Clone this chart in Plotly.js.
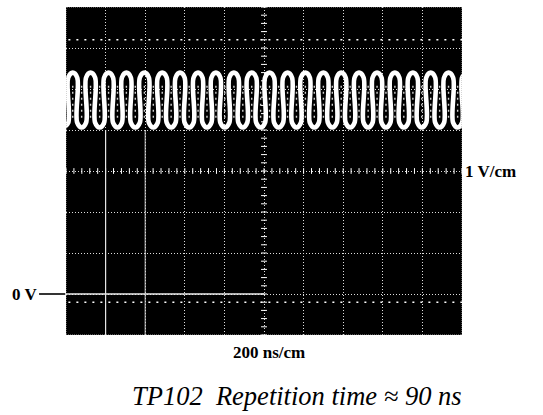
<!DOCTYPE html>
<html>
<head>
<meta charset="utf-8">
<script src="https://cdn.plot.ly/plotly-3.0.1.min.js"></script>
<style>html,body{margin:0;padding:0;background:#fff;}#chart{width:543px;height:415px;}</style>
</head>
<body>
<div id="chart"></div>
<script>
// Trace: times of crests/troughs (ns) and their levels (V)
const extremaNs = [-11, 34, 79, 124, 170, 215, 260, 305, 350, 396, 441, 486, 531, 576, 622, 667,
  712, 757, 802, 848, 893, 938, 983, 1028, 1074, 1119, 1164, 1209, 1254, 1300, 1345, 1390,
  1435, 1480, 1526, 1571, 1616, 1661, 1706, 1752, 1797, 1842, 1887, 1932, 1978, 2023];
const extremaV = [4.06, 5.40, 4.06, 5.40, 4.06, 5.40, 4.06, 5.40, 4.06, 5.40, 4.06, 5.40, 4.06, 5.40, 4.06, 5.40,
  4.06, 5.40, 4.06, 5.40, 4.06, 5.40, 4.06, 5.40, 4.06, 5.40, 4.06, 5.40, 4.06, 5.40, 4.06, 5.40,
  4.06, 5.40, 4.06, 5.40, 4.06, 5.40, 4.06, 5.40, 4.06, 5.40, 4.06, 5.40, 4.06, 5.40];
// Times of the (near vertical) edges between them, and where the rounded ends begin (V)
const edgeNs = [11.5, 56.5, 101.5, 147, 192.5, 237.5, 282.5, 327.5, 373, 418.5, 463.5, 508.5, 553.5, 599,
  644.5, 689.5, 734.5, 779.5, 825, 870.5, 915.5, 960.5, 1005.5, 1051, 1096.5, 1141.5, 1186.5, 1231.5,
  1277, 1322.5, 1367.5, 1412.5, 1457.5, 1503, 1548.5, 1593.5, 1638.5, 1683.5, 1729, 1774.5, 1819.5,
  1864.5, 1909.5, 1955, 2000.5];
const edgeTopV = 5.28;
const edgeBottomV = 4.18;
// Faint dotted residue seen inside the loops (V span)
const residueV = [4.3, 5.15];

// Screen scale
const xRange = [0, 2000];   // 10 div x 200 ns/cm
const yRange = [-1, 7];     // 8 div x 1 V/cm
const xDiv = 200, yDiv = 1;
const centerX = 1000, centerY = 3;

const labelZero = '0 V';
const labelVert = '1 V/cm';
const labelHoriz = '200 ns/cm';
const caption = 'TP102\u00a0\u00a0Repetition time \u2248 90 ns';

// Build the trace path: extremum, edge start, edge end, next extremum ...
const tx = [], ty = [];
for (let i = 0; i < extremaNs.length; i++) {
  tx.push(extremaNs[i]); ty.push(extremaV[i]);
  if (i < edgeNs.length) {
    const fromHigh = extremaV[i] > extremaV[i + 1];
    tx.push(edgeNs[i], edgeNs[i]);
    ty.push(fromHigh ? edgeTopV : edgeBottomV, fromHigh ? edgeBottomV : edgeTopV);
  }
}
const rx = [], ry = [];
extremaNs.forEach(function (t) { rx.push(t, t, null); ry.push(residueV[0], residueV[1], null); });

const gridCol = '#dcdcdc';
const shapes = [];
// Graticule border
shapes.push({type:'rect', xref:'x', yref:'y', x0:xRange[0], x1:xRange[1], y0:yRange[0], y1:yRange[1],
  line:{color:'#aaaaaa', width:1, dash:'1px,1px'}, layer:'above'});
// Center line sub-ticks (0.2 div)
for (let k = 0; k <= 50; k++) {
  const x = k * xDiv / 5;
  shapes.push({type:'line', xref:'x', yref:'y', x0:x, x1:x, y0:centerY - 0.07, y1:centerY + 0.07,
    line:{color:'#ffffff', width:1}, layer:'above'});
}
for (let k = 0; k <= 40; k++) {
  const y = yRange[0] + k * yDiv / 5;
  shapes.push({type:'line', xref:'x', yref:'y', x0:centerX - 15, x1:centerX + 15, y0:y, y1:y,
    line:{color:'#ffffff', width:1}, layer:'above'});
}
// Dotted marker rows
[6.2, -0.2].forEach(function (y) {
  shapes.push({type:'line', xref:'x', yref:'y', x0:xRange[0] + 12, x1:xRange[1], y0:y, y1:y,
    line:{color:'#ffffff', width:1.6, dash:'2px,6px'}, layer:'above'});
});
// Brighter solid graticule segments
shapes.push({type:'line', xref:'x', yref:'y', x0:0, x1:1000, y0:0, y1:0, line:{color:'#eeeeee', width:1.3}, layer:'above'});
shapes.push({type:'line', xref:'x', yref:'y', x0:200, x1:200, y0:-1, y1:4, line:{color:'#e6e6e6', width:1.2}, layer:'above'});
shapes.push({type:'line', xref:'x', yref:'y', x0:400, x1:400, y0:-1, y1:4, line:{color:'#d0d0d0', width:1}, layer:'above'});
// 0 V pointer line
shapes.push({type:'line', xref:'paper', yref:'y', x0:-0.068, x1:-0.002, y0:0, y1:0, line:{color:'#000000', width:1.6}});

const residue = {
  x: rx, y: ry, type:'scatter', mode:'lines',
  line:{color:'#cfcfcf', width:1.4, dash:'2px,4px'}, hoverinfo:'skip'
};
const trace = {
  x: tx, y: ty, type:'scatter', mode:'lines',
  line:{color:'#ffffff', width:4.6, shape:'spline', smoothing:1},
  hoverinfo:'skip'
};

const serif = 'Liberation Serif, Times New Roman, serif';
const layout = {
  width:543, height:415,
  margin:{l:66, r:81, t:7, b:80, pad:0},
  paper_bgcolor:'#ffffff', plot_bgcolor:'#000000',
  showlegend:false,
  xaxis:{range:xRange, tick0:0, dtick:xDiv, showgrid:true, gridcolor:gridCol, gridwidth:1, griddash:'1px,2px',
    zeroline:false, showticklabels:false, ticks:'', showline:false, fixedrange:true},
  yaxis:{range:yRange, tick0:0, dtick:yDiv, showgrid:true, gridcolor:gridCol, gridwidth:1, griddash:'1px,2px',
    zeroline:false, showticklabels:false, ticks:'', showline:false, fixedrange:true},
  shapes: shapes,
  annotations:[
    {text:'<b>' + labelZero + '</b>', xref:'paper', yref:'y', x:-0.07, y:0, xanchor:'right', yanchor:'middle',
      showarrow:false, font:{family:serif, size:17, color:'#000'}, borderpad:0},
    {text:'<b>' + labelVert + '</b>', xref:'paper', yref:'y', x:1.006, y:centerY, xanchor:'left', yanchor:'middle',
      showarrow:false, font:{family:serif, size:17, color:'#000'}, borderpad:0},
    {text:'<b>' + labelHoriz + '</b>', xref:'paper', yref:'paper', x:0.513, y:-0.052, xanchor:'center', yanchor:'middle',
      showarrow:false, font:{family:serif, size:17, color:'#000'}, borderpad:0},
    {text:'<i>' + caption + '</i>', xref:'paper', yref:'paper', x:0.583, y:-0.186, xanchor:'center', yanchor:'middle',
      showarrow:false, font:{family:serif, size:26.5, color:'#000'}, borderpad:0}
  ]
};

Plotly.newPlot('chart', [residue, trace], layout, {displayModeBar:false, staticPlot:true});
</script>
</body>
</html>
